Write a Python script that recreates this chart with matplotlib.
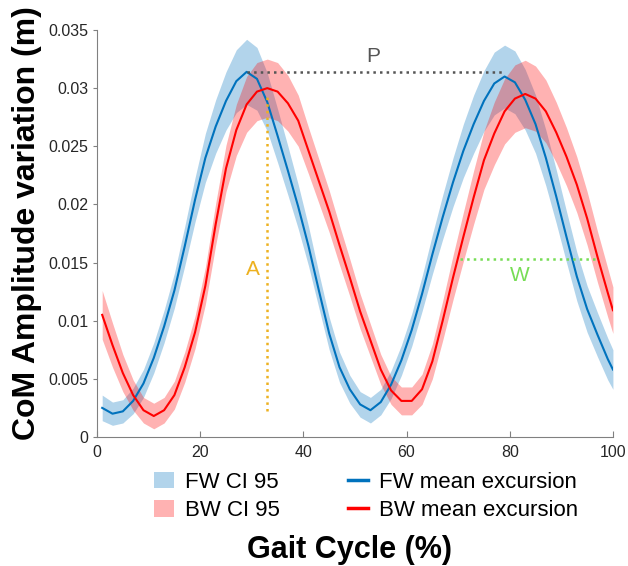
##CoM amplitude variation over the gait cycle, FW vs BW walking

import numpy as np
import matplotlib.pyplot as plt
from matplotlib.patches import Patch
from matplotlib.lines import Line2D

plt.rcParams['font.family'] = ['Liberation Sans', 'DejaVu Sans']

##Gait cycle samples (%)
gait = [1, 3, 5, 7, 9, 11, 13, 15, 17, 19, 21, 23, 25, 27, 29, 31, 33, 35, 37, 39,
        41, 43, 45, 47, 49, 51, 53, 55, 57, 59, 61, 63, 65, 67, 69, 71, 73, 75, 77, 79,
        81, 83, 85, 87, 89, 91, 93, 95, 97, 99, 100]

##FW mean excursion (m) and CI 95 half width
fw_mean = [0.0025, 0.0020, 0.0022, 0.0031, 0.0046, 0.0068, 0.0095, 0.0126, 0.0164, 0.0204,
           0.0240, 0.0267, 0.0289, 0.0306, 0.0314, 0.0308, 0.0288, 0.0259, 0.0229, 0.0198,
           0.0164, 0.0126, 0.0089, 0.0060, 0.0041, 0.0028, 0.0023, 0.0030, 0.0045, 0.0066,
           0.0092, 0.0123, 0.0157, 0.0189, 0.0219, 0.0246, 0.0269, 0.0289, 0.0304, 0.0310,
           0.0305, 0.0290, 0.0269, 0.0240, 0.0207, 0.0172, 0.0138, 0.0110, 0.0088, 0.0067,
           0.0058]
fw_ci = [0.0011, 0.0010, 0.0010, 0.0011, 0.0012, 0.0013, 0.0014, 0.0015, 0.0017, 0.0019,
         0.0021, 0.0023, 0.0025, 0.0027, 0.0028, 0.0027, 0.0025, 0.0023, 0.0021, 0.0019,
         0.0017, 0.0015, 0.0014, 0.0013, 0.0012, 0.0011, 0.0011, 0.0011, 0.0012, 0.0013,
         0.0014, 0.0015, 0.0017, 0.0019, 0.0021, 0.0023, 0.0025, 0.0026, 0.0027, 0.0027,
         0.0027, 0.0026, 0.0025, 0.0024, 0.0023, 0.0022, 0.0021, 0.0020, 0.0019, 0.0018,
         0.0017]

##BW mean excursion (m) and CI 95 half width
bw_mean = [0.0105, 0.0079, 0.0055, 0.0036, 0.0023, 0.0018, 0.0023, 0.0036, 0.0060, 0.0090,
           0.0130, 0.0183, 0.0231, 0.0264, 0.0286, 0.0297, 0.0300, 0.0297, 0.0287, 0.0272,
           0.0246, 0.0220, 0.0194, 0.0165, 0.0137, 0.0108, 0.0083, 0.0058, 0.0040, 0.0031,
           0.0031, 0.0041, 0.0065, 0.0100, 0.0137, 0.0172, 0.0206, 0.0238, 0.0261, 0.0280,
           0.0291, 0.0295, 0.0291, 0.0280, 0.0262, 0.0241, 0.0217, 0.0188, 0.0155, 0.0124,
           0.0109]
bw_ci = [0.0021, 0.0019, 0.0016, 0.0013, 0.0011, 0.0011, 0.0011, 0.0012, 0.0013, 0.0014,
         0.0016, 0.0018, 0.0020, 0.0022, 0.0024, 0.0025, 0.0025, 0.0025, 0.0024, 0.0022,
         0.0020, 0.0019, 0.0018, 0.0017, 0.0016, 0.0015, 0.0014, 0.0013, 0.0012, 0.0012,
         0.0012, 0.0013, 0.0015, 0.0017, 0.0019, 0.0021, 0.0023, 0.0025, 0.0027, 0.0028,
         0.0029, 0.0029, 0.0028, 0.0027, 0.0026, 0.0025, 0.0024, 0.0023, 0.0022, 0.0021,
         0.0020]

##Annotations: P (period), A (amplitude), W (width)
p_x = [29, 79]
p_y = 0.0314
a_x = 32.9
a_y = [0.0022, 0.0293]
w_x = [70.3, 96.5]
w_y = 0.0153

y_ticks = [0, 0.005, 0.01, 0.015, 0.02, 0.025, 0.03, 0.035]
y_tick_labels = ['0', '0.005', '0.01', '0.015', '0.02', '0.025', '0.03', '0.035']
x_ticks = [0, 20, 40, 60, 80, 100]

##Colours
fw_col = '#0072BD'
bw_col = '#FF0000'
txt_col = '#262626'

gait = np.array(gait)
fw_mean = np.array(fw_mean)
fw_ci = np.array(fw_ci)
bw_mean = np.array(bw_mean)
bw_ci = np.array(bw_ci)

fig = plt.figure(figsize=(6.28, 5.66), dpi=100)
ax = fig.add_axes([0.1545, 0.228, 0.8215, 0.719])

ax.fill_between(gait, fw_mean - fw_ci, fw_mean + fw_ci, color=fw_col, alpha=0.3, lw=0)
ax.fill_between(gait, bw_mean - bw_ci, bw_mean + bw_ci, color=bw_col, alpha=0.3, lw=0)
ax.plot(gait, fw_mean, color=fw_col, lw=1.5)
ax.plot(gait, bw_mean, color=bw_col, lw=1.5)

ax.plot(p_x, [p_y, p_y], ':', color='#555555', lw=1.8)
ax.plot([a_x, a_x], a_y, ':', color='#EDB120', lw=1.8)
ax.plot(w_x, [w_y, w_y], ':', color='#77DD55', lw=1.8)
ax.text(53.5, 0.0327, 'P', color='#555555', fontsize=15, ha='center', va='center')
ax.text(30.3, 0.0144, 'A', color='#EDB120', fontsize=15, ha='center', va='center')
ax.text(82, 0.0139, 'W', color='#77DD55', fontsize=15, ha='center', va='center')

ax.set_xlim(0, 100)
ax.set_ylim(0, 0.035)
ax.set_xticks(x_ticks)
ax.set_yticks(y_ticks)
ax.set_yticklabels(y_tick_labels)
ax.spines['top'].set_visible(False)
ax.spines['right'].set_visible(False)
for s in ['left', 'bottom']:
    ax.spines[s].set_color('#808080')
    ax.spines[s].set_linewidth(0.8)
ax.tick_params(axis='x', direction='in', length=4, color='#808080', labelsize=11.5, labelcolor=txt_col, pad=6)
ax.tick_params(axis='y', direction='out', length=3, color='#808080', labelsize=11.5, labelcolor=txt_col, pad=3)
ax.set_ylabel('CoM Amplitude variation (m)', fontsize=23, fontweight='bold', color='black')
ax.yaxis.set_label_coords(-0.107, 0.525)

handles = [Patch(facecolor=fw_col, alpha=0.3, lw=0),
           Patch(facecolor=bw_col, alpha=0.3, lw=0),
           Line2D([], [], color=fw_col, lw=2.5),
           Line2D([], [], color=bw_col, lw=2.5)]
labels = ['FW CI 95', 'BW CI 95', 'FW mean excursion', 'BW mean excursion']
fig.legend(handles, labels, ncol=2, loc='upper left', bbox_to_anchor=(0.245, 0.166),
           frameon=False, fontsize=16, handlelength=0.9, handleheight=0.75, handletextpad=0.5,
           columnspacing=3.05, labelspacing=0.33, borderpad=0, borderaxespad=0)

fig.text(0.557, 0.014, 'Gait Cycle (%)', fontsize=22, fontweight='bold', ha='center', va='baseline')

plt.savefig('out.png', dpi=100)
